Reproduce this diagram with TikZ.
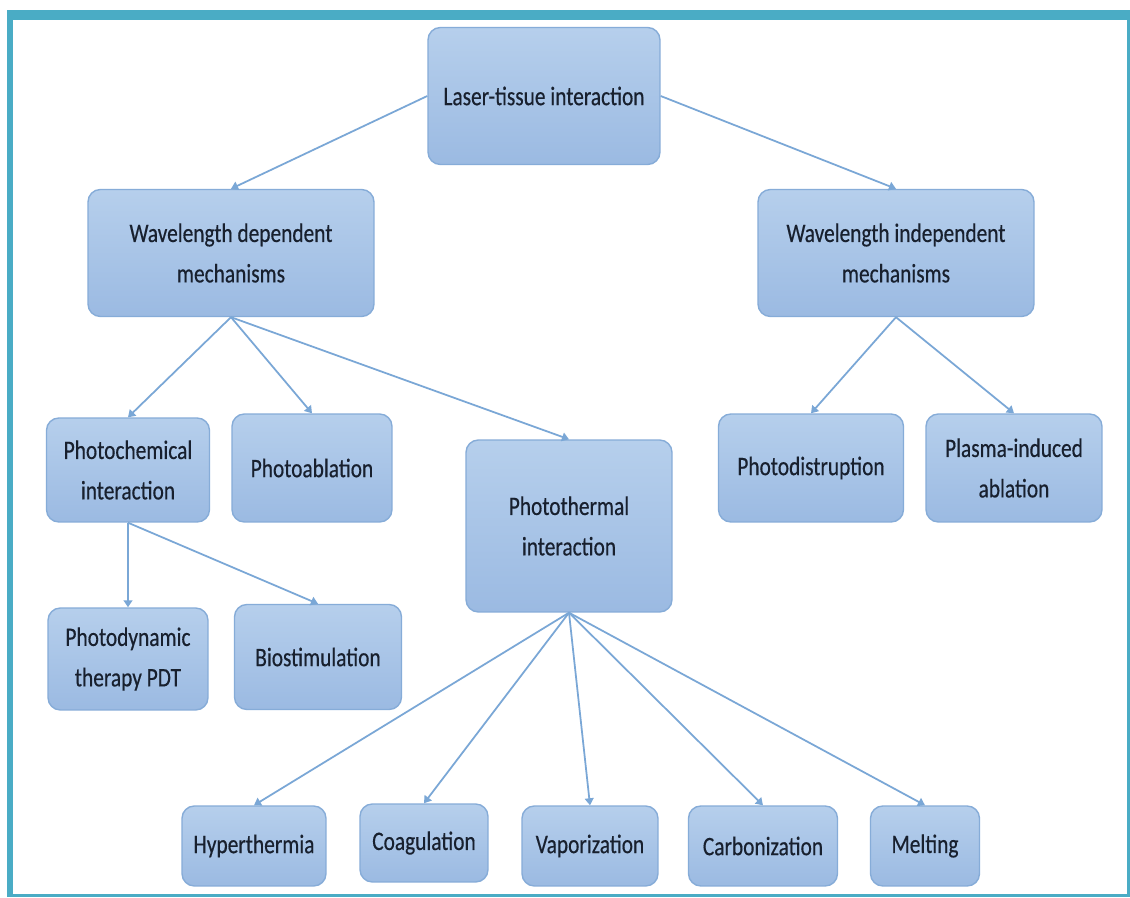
\documentclass[tikz,border=0pt]{standalone}
\usepackage{fontspec}
\setmainfont{Carlito}[FakeStretch=0.8,FakeBold=0.4]
\usetikzlibrary{arrows.meta}
\definecolor{frameteal}{HTML}{4AACC5}
\definecolor{boxtop}{HTML}{B6CFEC}
\definecolor{boxbot}{HTML}{9BBAE2}
\definecolor{boxline}{HTML}{86ACD8}
\definecolor{linkblue}{HTML}{7AA7D6}
\definecolor{textdark}{HTML}{18202E}
\begin{document}
\begin{tikzpicture}[x=0.02cm,y=-0.02cm,
	box/.style={draw=boxline,line width=0.8pt,rounded corners=7pt,top color=boxtop,bottom color=boxbot,
		text=textdark,align=center,inner sep=2pt,font=\fontsize{15.2}{23}\selectfont},
	link/.style={draw=linkblue,line width=1pt,-{Triangle[width=5pt,length=4pt]}}]
	\useasboundingbox (0,0) rectangle (1130,898);
	\fill[frameteal] (7,10) rectangle (1130,897);
	\fill[white] (13,20) rectangle (1127,894);
	% top levels
	\node[box,minimum width=4.64cm,minimum height=2.74cm] (lti) at (544,96) {Laser-tissue interaction};
	\node[box,minimum width=5.72cm,minimum height=2.54cm] (wdm) at (231,253) {Wavelength dependent\\mechanisms};
	\node[box,minimum width=5.52cm,minimum height=2.54cm] (wim) at (896,253) {Wavelength independent\\mechanisms};
	% mechanisms
	\node[box,minimum width=3.26cm,minimum height=2.08cm] (pchem) at (128,470) {Photochemical\\interaction};
	\node[box,minimum width=3.2cm,minimum height=2.16cm] (pabl) at (312,468) {Photoablation};
	\node[box,minimum width=4.12cm,minimum height=3.44cm] (ptherm) at (569,526) {Photothermal\\interaction};
	\node[box,minimum width=3.7cm,minimum height=2.16cm] (pdis) at (811,468) {Photodistruption};
	\node[box,minimum width=3.52cm,minimum height=2.16cm] (plasma) at (1014,468) {Plasma-induced\\ablation};
	\node[box,minimum width=3.2cm,minimum height=2.04cm] (pdt) at (128,659) {Photodynamic\\therapy PDT};
	\node[box,minimum width=3.34cm,minimum height=2.1cm] (bio) at (318,657) {Biostimulation};
	% thermal effects
	\node[box,minimum width=2.88cm,minimum height=1.6cm] (hyper) at (254,846) {Hyperthermia};
	\node[box,minimum width=2.56cm,minimum height=1.56cm] (coag) at (424,843) {Coagulation};
	\node[box,minimum width=2.72cm,minimum height=1.6cm] (vapor) at (590,846) {Vaporization};
	\node[box,minimum width=2.98cm,minimum height=1.6cm] (carbon) at (763,846) {Carbonization};
	\node[box,minimum width=2.18cm,minimum height=1.6cm] (melt) at (925,846) {Melting};
	% connectors
	\draw[link] (lti.west) -- (wdm.north);
	\draw[link] (lti.east) -- (wim.north);
	\foreach \t in {pchem,pabl,ptherm} \draw[link] (wdm.south) -- (\t.north);
	\foreach \t in {pdis,plasma} \draw[link] (wim.south) -- (\t.north);
	\foreach \t in {pdt,bio} \draw[link] (pchem.south) -- (\t.north);
	\foreach \t in {hyper,coag,vapor,carbon,melt} \draw[link] (ptherm.south) -- (\t.north);
\end{tikzpicture}
\end{document}
